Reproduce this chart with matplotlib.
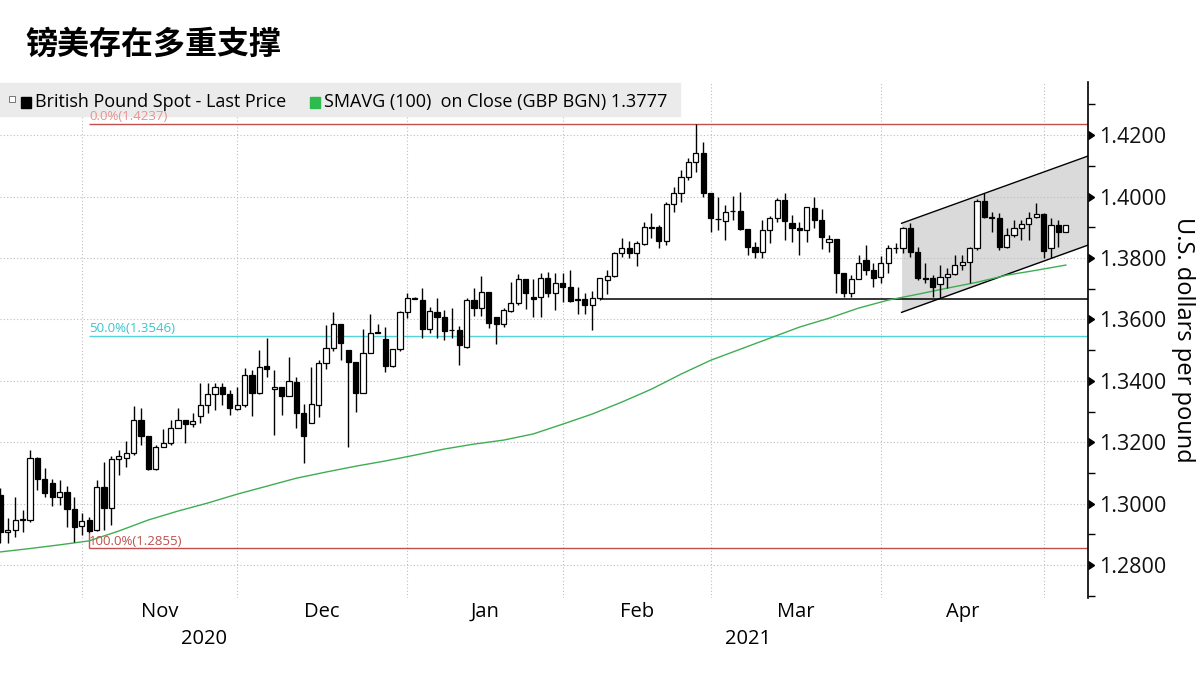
import matplotlib
matplotlib.use("Agg")
import matplotlib.pyplot as plt
from matplotlib.patches import Rectangle
from matplotlib.ticker import MultipleLocator, FormatStrFormatter
import numpy as np
import pandas as pd

plt.rcParams["font.family"] = ["Open Sans", "DejaVu Sans"]

title = "镑美存在多重支撑"
ylabel = "U.S. dollars per pound"
legend_price = "British Pound Spot - Last Price"
legend_sma = "SMAVG (100)  on Close (GBP BGN) 1.3777"
first_day = "2020-10-16"  # one candle per weekday

opens = [
    1.3028, 1.2907, 1.2914, 1.2947, 1.2947, 1.3148, 1.3080, 1.3067, 1.3021, 1.3038,
    1.2982, 1.2927, 1.2947, 1.2914, 1.3054, 1.2986, 1.3145, 1.3148, 1.3165, 1.3272,
    1.3220, 1.3113, 1.3184, 1.3197, 1.3246, 1.3272, 1.3259, 1.3285, 1.3321, 1.3357,
    1.3380, 1.3357, 1.3308, 1.3321, 1.3419, 1.3360, 1.3448, 1.3373, 1.3380, 1.3350,
    1.3396, 1.3295, 1.3262, 1.3321, 1.3458, 1.3507, 1.3585, 1.3500, 1.3461, 1.3360,
    1.3490, 1.3559, 1.3536, 1.3448, 1.3503, 1.3624, 1.3669, 1.3663, 1.3568, 1.3624,
    1.3607, 1.3565, 1.3565, 1.3510, 1.3663, 1.3637, 1.3689, 1.3607, 1.3585, 1.3627,
    1.3653, 1.3731, 1.3672, 1.3672, 1.3734, 1.3686, 1.3718, 1.3705, 1.3666, 1.3666,
    1.3647, 1.3669, 1.3728, 1.3741, 1.3816, 1.3832, 1.3816, 1.3845, 1.3899, 1.3900,
    1.3855, 1.3975, 1.4011, 1.4063, 1.4112, 1.4141, 1.4011, 1.3927, 1.3920, 1.3952,
    1.3952, 1.3894, 1.3835, 1.3819, 1.3891, 1.3930, 1.3988, 1.3913, 1.3897, 1.3891,
    1.3962, 1.3923, 1.3852, 1.3861, 1.3751, 1.3686, 1.3731, 1.3793, 1.3761, 1.3738,
    1.3783, 1.3832, 1.3832, 1.3897, 1.3819, 1.3734, 1.3734, 1.3715, 1.3738, 1.3748,
    1.3777, 1.3787, 1.3832, 1.3985, 1.3933, 1.3930, 1.3835, 1.3874, 1.3897, 1.3910,
    1.3933, 1.3943, 1.3832, 1.3907, 1.3884,
]
highs = [
    1.3051, 1.2953, 1.3021, 1.2979, 1.3174, 1.3151, 1.3116, 1.3080, 1.3077, 1.3057,
    1.3021, 1.2969, 1.2956, 1.3077, 1.3135, 1.3155, 1.3174, 1.3204, 1.3318, 1.3311,
    1.3220, 1.3191, 1.3243, 1.3272, 1.3311, 1.3272, 1.3295, 1.3393, 1.3393, 1.3393,
    1.3393, 1.3370, 1.3380, 1.3441, 1.3435, 1.3500, 1.3539, 1.3435, 1.3380, 1.3477,
    1.3412, 1.3324, 1.3445, 1.3467, 1.3581, 1.3624, 1.3585, 1.3500, 1.3461, 1.3568,
    1.3617, 1.3585, 1.3575, 1.3503, 1.3627, 1.3686, 1.3672, 1.3702, 1.3640, 1.3669,
    1.3630, 1.3637, 1.3578, 1.3669, 1.3702, 1.3741, 1.3689, 1.3607, 1.3637, 1.3721,
    1.3747, 1.3731, 1.3731, 1.3751, 1.3754, 1.3751, 1.3751, 1.3761, 1.3705, 1.3686,
    1.3692, 1.3734, 1.3761, 1.3819, 1.3865, 1.3855, 1.3855, 1.3917, 1.3946, 1.3907,
    1.3982, 1.4031, 1.4086, 1.4125, 1.4237, 1.4177, 1.4011, 1.3998, 1.3972, 1.4002,
    1.4014, 1.3894, 1.3852, 1.3923, 1.3936, 1.3995, 1.4011, 1.3940, 1.3917, 1.3966,
    1.3998, 1.3959, 1.3874, 1.3861, 1.3751, 1.3744, 1.3809, 1.3842, 1.3783, 1.3806,
    1.3842, 1.3848, 1.3900, 1.3913, 1.3835, 1.3783, 1.3744, 1.3777, 1.3767, 1.3809,
    1.3809, 1.3835, 1.3992, 1.4011, 1.3949, 1.3946, 1.3897, 1.3923, 1.3923, 1.3949,
    1.3979, 1.3946, 1.3930, 1.3923, 1.3907,
]
lows = [
    1.2872, 1.2872, 1.2891, 1.2907, 1.2940, 1.3044, 1.3021, 1.2992, 1.2995, 1.2924,
    1.2875, 1.2898, 1.2904, 1.2911, 1.2914, 1.2930, 1.3093, 1.3119, 1.3158, 1.3191,
    1.3109, 1.3109, 1.3184, 1.3191, 1.3246, 1.3197, 1.3249, 1.3262, 1.3295, 1.3305,
    1.3321, 1.3288, 1.3305, 1.3314, 1.3285, 1.3357, 1.3412, 1.3223, 1.3288, 1.3350,
    1.3246, 1.3132, 1.3262, 1.3282, 1.3438, 1.3497, 1.3467, 1.3184, 1.3298, 1.3360,
    1.3490, 1.3555, 1.3428, 1.3445, 1.3497, 1.3604, 1.3666, 1.3539, 1.3555, 1.3539,
    1.3533, 1.3539, 1.3451, 1.3507, 1.3611, 1.3611, 1.3572, 1.3520, 1.3575, 1.3624,
    1.3647, 1.3634, 1.3607, 1.3607, 1.3672, 1.3630, 1.3656, 1.3656, 1.3617, 1.3617,
    1.3565, 1.3663, 1.3682, 1.3738, 1.3803, 1.3800, 1.3773, 1.3842, 1.3865, 1.3832,
    1.3842, 1.3949, 1.3982, 1.4054, 1.4080, 1.3998, 1.3884, 1.3891, 1.3858, 1.3923,
    1.3891, 1.3809, 1.3800, 1.3800, 1.3848, 1.3917, 1.3858, 1.3852, 1.3809, 1.3852,
    1.3897, 1.3829, 1.3819, 1.3686, 1.3672, 1.3672, 1.3731, 1.3744, 1.3705, 1.3718,
    1.3751, 1.3816, 1.3816, 1.3803, 1.3728, 1.3718, 1.3672, 1.3669, 1.3702, 1.3744,
    1.3761, 1.3718, 1.3826, 1.3930, 1.3884, 1.3826, 1.3832, 1.3868, 1.3858, 1.3858,
    1.3930, 1.3800, 1.3800, 1.3835, 1.3884,
]
closes = [
    1.2907, 1.2914, 1.2947, 1.2950, 1.3148, 1.3080, 1.3034, 1.3021, 1.3038, 1.2982,
    1.2924, 1.2943, 1.2911, 1.3054, 1.2986, 1.3145, 1.3155, 1.3165, 1.3272, 1.3220,
    1.3113, 1.3184, 1.3197, 1.3246, 1.3272, 1.3259, 1.3269, 1.3321, 1.3357, 1.3380,
    1.3357, 1.3311, 1.3321, 1.3419, 1.3360, 1.3445, 1.3438, 1.3380, 1.3350, 1.3399,
    1.3295, 1.3220, 1.3324, 1.3458, 1.3507, 1.3585, 1.3523, 1.3461, 1.3360, 1.3490,
    1.3555, 1.3555, 1.3448, 1.3503, 1.3624, 1.3669, 1.3668, 1.3568, 1.3627, 1.3607,
    1.3562, 1.3564, 1.3516, 1.3663, 1.3637, 1.3689, 1.3588, 1.3585, 1.3630, 1.3653,
    1.3731, 1.3686, 1.3666, 1.3734, 1.3686, 1.3718, 1.3705, 1.3660, 1.3663, 1.3647,
    1.3669, 1.3734, 1.3741, 1.3816, 1.3832, 1.3816, 1.3848, 1.3900, 1.3900, 1.3855,
    1.3975, 1.4011, 1.4063, 1.4112, 1.4141, 1.4011, 1.3930, 1.3926, 1.3949, 1.3953,
    1.3894, 1.3835, 1.3819, 1.3891, 1.3930, 1.3988, 1.3920, 1.3897, 1.3891, 1.3966,
    1.3923, 1.3868, 1.3861, 1.3751, 1.3686, 1.3731, 1.3783, 1.3761, 1.3734, 1.3783,
    1.3832, 1.3833, 1.3897, 1.3819, 1.3734, 1.3733, 1.3705, 1.3738, 1.3748, 1.3777,
    1.3787, 1.3832, 1.3985, 1.3933, 1.3930, 1.3835, 1.3874, 1.3897, 1.3910, 1.3930,
    1.3943, 1.3822, 1.3907, 1.3884, 1.3907,
]

# 100-day moving average, read every 4th candle
sma_idx = list(range(0, 145, 4))
sma_vals = [
    1.2843, 1.2854, 1.2866, 1.2879, 1.2911, 1.2947, 1.2976, 1.3002, 1.3031, 1.3057,
    1.3083, 1.3103, 1.3122, 1.3139, 1.3158, 1.3178, 1.3194, 1.3207, 1.3227, 1.3259,
    1.3292, 1.3331, 1.3373, 1.3422, 1.3467, 1.3503, 1.3539, 1.3575, 1.3604, 1.3637,
    1.3663, 1.3682, 1.3702, 1.3721, 1.3744, 1.3760, 1.3777,
]

fib_levels = [1.4237, 1.3546, 1.2855]
fib_names = ["0.0%", "50.0%", "100.0%"]
fib_line_colors = ["#c0504d", "#52d3da", "#c0504d"]
fib_text_colors = ["#e8928f", "#3cc4cc", "#c0504d"]
fib_anchor = 12

support_level = 1.3667
support_start = 81

channel_x = [121.8, 147.0]
channel_top = [1.3913, 1.4132]
channel_bot = [1.3623, 1.3842]

x_max = 147.0
y_min, y_max = 1.2693, 1.4373

dates = pd.bdate_range(first_day, periods=len(closes))
x = np.arange(len(closes))
o, h, l, c = (np.array(v) for v in (opens, highs, lows, closes))
up = c >= o

fig = plt.figure(figsize=(12, 6.75), dpi=100)
ax = fig.add_axes([0, 0.1141, 0.9067, 0.7644])
ax.set_xlim(-0.05, x_max)
ax.set_ylim(y_min, y_max)

grid_kw = dict(color="#bdbdbd", lw=0.8, ls=(0, (1, 2)), zorder=0)
month_start = [i for i in range(1, len(dates)) if dates[i].month != dates[i - 1].month]
for m in month_start:
    ax.axvline(m, **grid_kw)
ax.grid(axis="y", which="major", **grid_kw)

# rising channel
ax.fill_between(channel_x, channel_bot, channel_top, color="#dadada", lw=0, zorder=1)
ax.plot(channel_x, channel_top, color="black", lw=1.0, zorder=2)
ax.plot(channel_x, channel_bot, color="black", lw=1.0, zorder=2)

ax.hlines(support_level, support_start, x_max, color="black", lw=1.1, zorder=2)

# legend strip sits inside the axes, under the fibonacci labels
ax.add_patch(Rectangle((0, 1 - 116 / 675), 680 / 1200, 33 / 675, transform=fig.transFigure,
                       color="#ebebeb", zorder=5, clip_on=False))

for lvl, name, lc, tc in zip(fib_levels, fib_names, fib_line_colors, fib_text_colors):
    ax.hlines(lvl, fib_anchor, x_max, color=lc, lw=1.0, zorder=2)
    ax.annotate(f"{name}({lvl:.4f})", (fib_anchor, lvl), xytext=(0, 0.5),
                textcoords="offset points", fontsize=9.5, color=tc,
                ha="left", va="bottom", zorder=6)
ax.vlines(fib_anchor, fib_levels[-1], lows[fib_anchor], color=fib_line_colors[-1], lw=1.0)

ax.plot(sma_idx, sma_vals, color="#3fae52", lw=1.0, zorder=2)

# candles
ax.vlines(x, l, h, color="black", lw=1.0, zorder=3)
ax.bar(x, np.abs(c - o), bottom=np.minimum(o, c), width=0.7,
       color=np.where(up, "white", "black"), edgecolor="black", lw=0.9, zorder=4)

for s in ("top", "left", "bottom"):
    ax.spines[s].set_visible(False)
ax.spines["right"].set_linewidth(1.2)
ax.yaxis.tick_right()
ax.yaxis.set_major_locator(MultipleLocator(0.02))
ax.yaxis.set_minor_locator(MultipleLocator(0.01))
ax.yaxis.set_major_formatter(FormatStrFormatter("%.4f"))
ax.tick_params(axis="y", which="major", length=0, pad=8, labelsize=15.5, labelcolor="#111111")
ax.tick_params(axis="y", which="minor", length=5, width=1.0, direction="out")
for v in ax.get_yticks():
    if y_min < v < y_max:
        ax.plot([1.0], [v], marker=9, ms=6, color="black",
                transform=ax.get_yaxis_transform(), clip_on=False)

# month names centred on each full month, years centred on their span
centers = [(a + b) / 2 for a, b in zip(month_start[:-1], month_start[1:])]
ax.set_xticks(centers, [dates[a].strftime("%b") for a in month_start[:-1]])
ax.tick_params(axis="x", length=0, labelsize=14.5, pad=3)
year_change = next(i for i in month_start if dates[i].year != dates[i - 1].year)
for yr, xc in ((dates[0].year, (-0.05 + year_change) / 2),
               (dates[-1].year, (year_change + x_max) / 2)):
    ax.annotate(str(yr), (xc, 0), xycoords=("data", "axes fraction"),
                xytext=(0, -22.5), textcoords="offset points",
                ha="center", va="top", fontsize=14.5)

fig.text(1183 / 1200, 1 - 340 / 675, ylabel, rotation=270, ha="center",
         va="center", fontsize=17)
fig.text(25 / 1200, 1 - 45 / 675, title, fontsize=23, weight="bold",
         family=["Noto Sans CJK SC", "DejaVu Sans"], va="center")

# legend keys and text
fig.add_artist(Rectangle((9 / 1200, 1 - 102 / 675), 6 / 1200, 6 / 675, transform=fig.transFigure,
                         facecolor="white", edgecolor="#777777", lw=0.7, zorder=6))
fig.add_artist(Rectangle((21 / 1200, 1 - 108 / 675), 10 / 1200, 11 / 675,
                         transform=fig.transFigure, color="black", zorder=6))
fig.add_artist(Rectangle((310 / 1200, 1 - 108 / 675), 10 / 1200, 11 / 675,
                         transform=fig.transFigure, color="#2dbb4e", zorder=6))
fig.text(35 / 1200, 1 - 102 / 675, legend_price, fontsize=13, va="center", zorder=6)
fig.text(324 / 1200, 1 - 102 / 675, legend_sma, fontsize=13, va="center", zorder=6)

fig.savefig("out.png", dpi=100)
